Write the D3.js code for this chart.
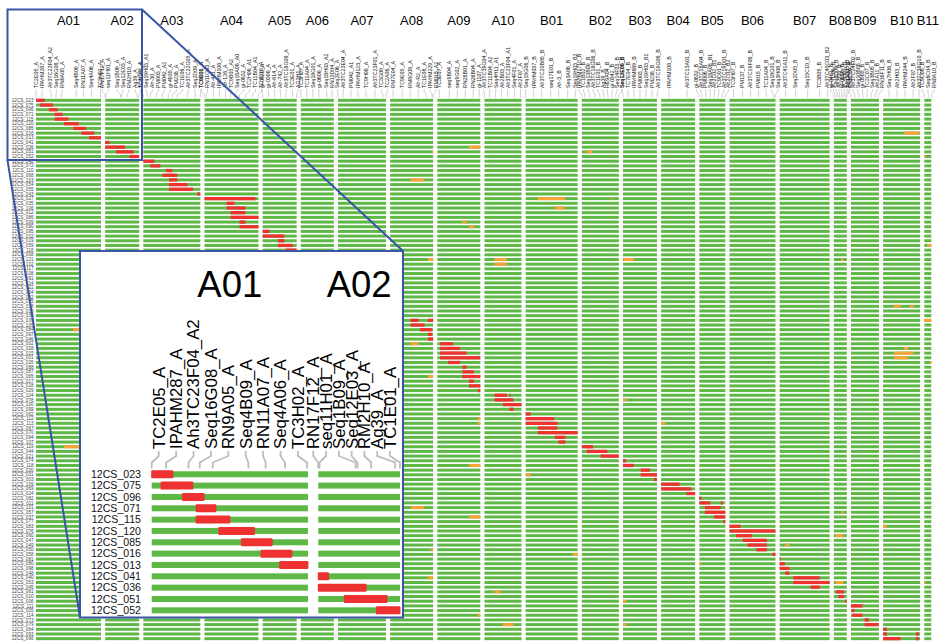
<!DOCTYPE html>
<html><head><meta charset="utf-8">
<script src="https://cdn.jsdelivr.net/npm/d3@7"></script>
<style>
body{margin:0;background:#fff}
svg{display:block}
text{font-family:"Liberation Sans",Arial,Helvetica,sans-serif}
</style>
</head><body>
<svg id="c" width="947" height="641"></svg>
<script>
// ---------------- DATA ----------------
const chromosomes = ["A01","A02","A03","A04","A05","A06","A07","A08","A09","A10","B01","B02","B03","B04","B05","B06","B07","B08","B09","B10","B11"];
const chromLengths = [65,34,57,54,34,33,48,43,43,37,52,37,34,34,26,46,50,13,28,37,7];

const markers = [
 ["A01","TC2E05_A",0],["A01","IPAHM287_A",6],["A01","Ah3TC23F04_A2",15.3],["A01","Seq16G08_A",20],["A01","RN9A05_A",25.4],["A01","Seq4B09_A",40.2],["A01","RN11A07_A",47.4],["A01","Seq4A06_A",55.5],["A01","TC3H02_A",64.6],
 ["A02","RN17F12_A",0],["A02","seq11H01_A",0.5],["A02","Seq1B09_A",15.5],["A02","Seq12E03_A",16.3],["A02","RM2H10_A",22],["A02","Ag39_A",32],["A02","TC1E01_A",34],
 ["A03","TC4G02_A",0],["A03","Seq19H03_A1",4],["A03","Ah-30_A",7],["A03","PM003_A",13],["A03","PM042_A2",19],["A03","gi-4935_A",25],["A03","PM238_A",29],["A03","TC1E06_A",34],["A03","Ah3TC22G05_A",44],["A03","Seq2D09_A",52],["A03","TC6E01_A",57],
 ["A04","TC9B08_A",0],["A04","RN11G03_A",2],["A04","Ah-411_A",9],["A04","IPAHM108_A",15],["A04","Ah-126_A",21],["A04","TC9B05_A2",26],["A04","Seq18A08_A0",30],["A04","gi-0832_A",35],["A04","TC2H06_A1",41],["A04","TC11B04_A1",48],["A04","TC7D10_A",54],
 ["A05","gi-0920_A",0],["A05","gi-0396_A",6],["A05","Ah-614_A",12],["A05","Ah-742_A",18],["A05","Ah3TC18G08_A",23],["A05","TC3E01_A",30],["A05","AG3H1_A",34],
 ["A06","TC3H07_A",0],["A06","TC11A04_A",6],["A06","Seq18G01_A",12],["A06","gi-0606_A",18],["A06","Seq18H03_A2",26],["A06","RN13D04_A",31],
 ["A07","Seq2E06_A",0],["A07","Ah3TC23E04_A",5],["A07","PM042_A1",13],["A07","IPAHM123_A",20],["A07","TC9H08_A",28],["A07","Ah3TC23F01_A",37],["A07","TC3G09_A",45],["A07","TC2A06_A",48],
 ["A08","RM7E04_A",3],["A08","TC9E05_A",12],["A08","RM8G08_A",20],["A08","Ah-R2_A",28],["A08","TC1E08_A",36],["A08","IPAHM229_A",42],["A08","PM015_A2",43],
 ["A09","TC3E07_A",2],["A09","seq9B04_A",12],["A09","seq9G02_A",20],["A09","RN28B01_A",28],["A09","RN26B04_A",36],["A09","gi-1107_A",42],
 ["A10","Ah3TC39G04_A",0],["A10","TC11B04_A2",5],["A10","Seq4H11_A1",11],["A10","Ah2B03_A",17],["A10","Ah3TC23F04_A1",23],["A10","Seq4F01_A",30],["A10","Ah2F07_A",36],
 ["B01","Seq15G06_B",0],["B01","IPAHM037_B",8],["B01","Ah3TC20B05_B",16],["B01","seq17E01_B",25],["B01","Ah-3_B",33],["B01","Seq3A08_B",42],["B01","Seq19H03_B2",50],
 ["B02","IPAHM171c_B",0],["B02","TC1B02_B",3],["B02","Seq13B09_B",8],["B02","Ah3TC18G06_B",13],["B02","TC1E01_B",18],["B02","Ag39_B",22],["B02","RE9A04_B",26],["B02","gi-0342_B",30],["B02","Seq14F03_B",34],["B02","Seq13E09_B",37],
 ["B03","Seq12E06_B",0],["B03","TC7E04_B",5],["B03","IPAHM689_B",11],["B03","PM003_B",17],["B03","Seq19H03_B1",23],["B03","PM238_B",29],["B03","Ah3TC19G06_B",34],
 ["B04","IPAHM108_B",8],["B04","Ah3TC13A01_B",26],
 ["B05","gi-0832_B",0],["B05","Ah3TC18A04_B",3],["B05","PM096_B",7],["B05","Seq18A08_B1",11],["B05","Ah2C02_B1",15],["B05","TC9D01_B",19],["B05","Ah3TC19D01_B",23],["B05","Ah2C02_B2",26],
 ["B06","TC3H07_B",4],["B06","PM137_B",13],["B06","Ah3TC19F06_B",21],["B06","PM015_B",29],["B06","TC11A04_B",37],["B06","Seq18G01_B",44],["B06","Seq3H08_B",46],
 ["B07","Ah3TC41A11_B",6],["B07","Seq2D05_B",16],["B07","Seq15C10_B",28],["B07","TC3B05_B",40],["B07","Ah3TC40C03_B2",48],
 ["B08","gi-0451_B",0],["B08","TC7C06_B",2],["B08","Seq8D09_B",4],["B08","Ah-558_B",6],["B08","gi-0688_B",8],["B08","TC4H07_B",10],["B08","Seq5D05_B",12],["B08","RN8C09_B",13],
 ["B09","TC1A02_B",0],["B09","Ah3TC24E02_B",4],["B09","Seq10B08_B",8],["B09","gi-0585_B",12],["B09","TC2C07_B",16],["B09","Seq3B05_B",20],["B09","Ah2A11_B",24],["B09","RN16F11_B",27],
 ["B10","Seq7H06_B",6],["B10","Ah2H03_B",14],["B10","IPAHM244_B",22],["B10","Ah2F07_B",30],["B10","Ah3TC38G10_B",36],
 ["B11","TC9D08_B",0],["B11","Seq6C04_B",4],["B11","RN0A10_B",7]
];

const lines = ["12CS_023","12CS_075","12CS_096","12CS_071","12CS_115","12CS_120","12CS_085","12CS_016","12CS_013","12CS_041","12CS_036","12CS_051","12CS_052",
 "12CS_042","12CS_072","12CS_110","12CS_068","12CS_103","12CS_054","12CS_055","12CS_043","12CS_027","12CS_035","12CS_106","12CS_012","12CS_086","12CS_009","12CS_090","12CS_095","12CS_032","12CS_019","12CS_059","12CS_116","12CS_008","12CS_121","12CS_102","12CS_117","12CS_108","12CS_091","12CS_014","12CS_022","12CS_034","12CS_092","12CS_025","12CS_038","12CS_033","12CS_030","12CS_039","12CS_105","12CS_084","12CS_097","12CS_046","12CS_002","12CS_028","12CS_015","12CS_001","12CS_026","12CS_088","12CS_087","12CS_065","12CS_017","12CS_018","12CS_029","12CS_104","12CS_078","12CS_100","12CS_099","12CS_062","12CS_112","12CS_113","12CS_067","12CS_070","12CS_094","12CS_107","12CS_119","12CS_044","12CS_021","12CS_074","12CS_118","12CS_020","12CS_031","12CS_003","12CS_109","12CS_069","12CS_024","12CS_082","12CS_011","12CS_101","12CS_057","12CS_037","12CS_077","12CS_083","12CS_076","12CS_060","12CS_047","12CS_049","12CS_050","12CS_058","12CS_081","12CS_080","12CS_098","12CS_048","12CS_040","12CS_053","12CS_045","12CS_061","12CS_010","12CS_006","12CS_111","12CS_005","12CS_114","12CS_073","12CS_079","12CS_064","12CS_093","12CS_066"];

// donor (introgressed) segments: [line, chromosome, start, end]
const donorSegments = [
 ["12CS_023","A01",0,8.8],["12CS_075","A01",3.9,17.1],["12CS_096","A01",12.8,21.8],["12CS_071","A01",18.5,26.7],["12CS_115","A01",18.5,32.5],["12CS_120","A01",27.9,42.8],["12CS_085","A01",37.3,50.1],["12CS_016","A01",45.5,58.3],["12CS_013","A01",53.2,65],
 ["12CS_041","A02",0,4.3],["12CS_036","A02",0,19.9],["12CS_051","A02",10.8,28.6],["12CS_052","A02",24.2,34],
 ["12CS_042","A03",0,11],["12CS_072","A03",7,17],["12CS_110","A03",22.7,29],["12CS_068","A03",19,34],["12CS_103","A03",25.7,34],["12CS_054","A03",25.7,44],["12CS_055","A03",25.7,49.7],["12CS_043","A03",54,57],
 ["12CS_027","A04",0,51],["12CS_035","A04",22,30],["12CS_106","A04",22,41],["12CS_012","A04",26,41],["12CS_086","A04",26,54],["12CS_009","A04",35,41],["12CS_090","A04",35,54],
 ["12CS_095","A05",0,7],["12CS_032","A05",0,21.7],["12CS_019","A05",15.3,21.7],["12CS_059","A05",15.3,30],["12CS_116","A05",23,34],
 ["12CS_039","A08",20.4,28.4],["12CS_039","A08",37.8,43],["12CS_105","A08",20.4,34.4],["12CS_084","A08",29.8,41.7],["12CS_097","A08",37.8,41.7],["12CS_046","A08",37.8,43],
 ["12CS_002","A09",2.8,15.7],["12CS_028","A09",2.8,22.7],["12CS_015","A09",2.8,29.3],["12CS_001","A09",2.8,43],["12CS_026","A09",10.8,22.7],["12CS_088","A09",25.1,29.3],["12CS_087","A09",25.1,36.6],["12CS_065","A09",25.1,43],["12CS_017","A09",31.7,36.6],["12CS_018","A09",31.7,43],["12CS_029","A09",40.5,43],
 ["12CS_104","A10",10.1,22.3],["12CS_104","A10",25.1,26.2],["12CS_078","A10",10.1,29],["12CS_100","A10",18.5,37],["12CS_099","A10",25.1,29],
 ["12CS_062","B01",0,4.9],["12CS_112","B01",0,28.3],["12CS_113","B01",0,31.7],["12CS_067","B01",12.2,31.7],["12CS_070","B01",12.2,52],["12CS_094","B01",29.3,39.8],["12CS_107","B01",32.8,39.8],
 ["12CS_119","B02",0,11.2],["12CS_044","B02",4.9,25.5],["12CS_021","B02",18.8,37],
 ["12CS_074","B03",0,3.1],["12CS_118","B03",0,10.8],["12CS_020","B03",17.8,26.9],["12CS_031","B03",17.8,34],["12CS_003","B03",31,34],
 ["12CS_109","B04",0,18.5],["12CS_069","B04",0,30],["12CS_024","B04",25.4,34],
 ["12CS_082","B05",0,2.1],["12CS_011","B05",0,10.8],["12CS_011","B05",21.3,23.4],["12CS_101","B05",5.6,21.3],["12CS_057","B05",5.6,26],["12CS_037","B05",14.7,26],["12CS_077","B05",24.1,26],
 ["12CS_083","B06",0,11.2],["12CS_076","B06",0,46],["12CS_060","B06",6.6,22.7],["12CS_047","B06",13.3,37.3],["12CS_049","B06",18.1,37.3],["12CS_050","B06",26.9,37.3],["12CS_058","B06",42.9,46],
 ["12CS_081","B07",0,1.1],["12CS_080","B07",0,5.2],["12CS_098","B07",0,9.8],["12CS_048","B07",5.6,9.8],["12CS_040","B07",13.6,40.1],["12CS_053","B07",13.6,50],["12CS_045","B07",31,40.1],
 ["12CS_061","B08",2.4,10.1],["12CS_010","B08",4.5,10.1],["12CS_006","B08",11.5,13],
 ["12CS_111","B09",0,11.5],["12CS_005","B09",0.7,3.5],["12CS_114","B09",1.4,11.5],["12CS_073","B09",13.6,18.1],["12CS_079","B09",13.6,27.6],
 ["12CS_064","B10",0,3.8],["12CS_093","B10",0,3.8],["12CS_093","B10",32.8,35.6],["12CS_066","B10",0,17.4],["12CS_066","B10",32.8,35.6]
];

// other (heterozygous / unexpected) segments: [line, chromosome, start, end]
const otherSegments = [
 ["12CS_016","B10",20.8,36.1],["12CS_036","A09",31.7,43],["12CS_051","A08",42,43],["12CS_051","B02",4.9,10.8],["12CS_052","B11",0,1.4],
 ["12CS_103","A08",20.4,34.4],["12CS_027","B01",12.2,39.4],["12CS_027","B02",29.3,30.3],["12CS_106","B01",29.3,39.4],
 ["12CS_009","A09",25.1,29.3],["12CS_090","A09",31.7,36.6],["12CS_059","B11",2.8,7],
 ["12CS_121","A08",37.8,43],["12CS_121","A10",10.1,22.3],["12CS_121","B03",0.7,10.8],["12CS_121","B08",7.3,9.4],["12CS_102","A10",10.1,22.3],
 ["12CS_038","B10",10.8,17.8],["12CS_038","B10",26.9,30.4],["12CS_039","B11",0,7],["12CS_084","A01",37,45],
 ["12CS_002","A08",20.4,28.4],["12CS_028","B10",20.9,24.8],["12CS_015","B10",10.8,30.4],["12CS_001","B10",10.8,24.8],["12CS_026","B11",5.6,7],
 ["12CS_065","A08",37.8,43],["12CS_078","B03",0,3.1],["12CS_112","A09",40.5,43],["12CS_113","A09",40.5,43],["12CS_113","B04",0,4.2],
 ["12CS_119","A01",28,45],["12CS_118","A09",31.7,43],["12CS_031","B01",0,4.9],["12CS_101","A08",20.8,34],["12CS_057","B08",7.3,9.4],
 ["12CS_037","A09",31.7,43],["12CS_083","B10",0,3.5],["12CS_060","B08",1.7,9.4],["12CS_049","B07",5.6,9.8],["12CS_050","A08",41,43],
 ["12CS_058","B01",47.1,52],["12CS_080","B05",0,2.1],["12CS_040","A08",37.8,43],["12CS_053","B08",1.7,9.4],["12CS_053","B11",0,1.4],
 ["12CS_061","A10",10.1,16],["12CS_006","B03",0,3.1],["12CS_114","A09",40.5,43],["12CS_079","A10",18.5,29],["12CS_079","B03",0,3.1]
];

const insetChromosomes = ["A01","A02"];
const insetLineCount = 13;

// ---------------- STYLE ----------------
const GREEN = "#5db846", RED = "#ee3232", ORANGE = "#f8a336", BLUE = "#3a55a6", GREY = "#bdbdbd";

// ---------------- MAIN CHART ----------------
const svg = d3.select("#c");
const lenOf = Object.fromEntries(chromosomes.map((c, i) => [c, chromLengths[i]]));
const gapU = 4.17;
const offset = {};
let acc = 0;
chromosomes.forEach((c, i) => { offset[c] = acc; acc += chromLengths[i] + (i < chromosomes.length - 1 ? gapU : 0); });

const x = d3.scaleLinear().domain([0, acc]).range([36, 931.3]);
const y = d3.scaleBand().domain(lines).range([98, 641]);
const rc = l => y(l) + y.bandwidth() / 2;

const main = svg.append("g");

const grid = [];
lines.forEach(l => chromosomes.forEach(c => grid.push([l, c])));
main.append("g").selectAll("rect").data(grid).join("rect")
  .attr("x", d => x(offset[d[1]]))
  .attr("width", d => x(offset[d[1]] + lenOf[d[1]]) - x(offset[d[1]]))
  .attr("y", d => rc(d[0]) - 1.5).attr("height", 3)
  .attr("fill", GREEN);

function segs(g, data, color, h) {
  g.append("g").selectAll("rect").data(data).join("rect")
    .attr("x", d => x(offset[d[1]] + d[2]))
    .attr("width", d => Math.max(0.8, x(offset[d[1]] + d[3]) - x(offset[d[1]] + d[2])))
    .attr("y", d => rc(d[0]) - h / 2).attr("height", h)
    .attr("fill", color);
}
segs(main, otherSegments, ORANGE, 3);
segs(main, donorSegments, RED, 3.3);

main.append("g").selectAll("text").data(lines).join("text")
  .attr("x", 33.5).attr("y", d => rc(d)).attr("dy", "0.35em")
  .attr("text-anchor", "end").attr("font-size", 4.6).attr("fill", "#444")
  .text(d => d);

main.append("g").selectAll("text").data(chromosomes).join("text")
  .attr("x", c => x(offset[c] + lenOf[c] / 2)).attr("y", 25)
  .attr("text-anchor", "middle").attr("font-size", 13).attr("fill", "#000")
  .text(c => c);

function dodge(desired, d, lo, hi) {
  let cl = desired.map(v => ({ n: 1, sum: v }));
  const first = c => { let f = c.sum / c.n - (c.n - 1) * d / 2; return Math.max(lo, Math.min(hi - (c.n - 1) * d, f)); };
  let changed = true;
  while (changed) {
    changed = false;
    for (let k = 0; k < cl.length - 1; k++) {
      const a = cl[k], b = cl[k + 1];
      if (first(b) - (first(a) + (a.n - 1) * d) < d - 1e-9) {
        cl.splice(k, 2, { n: a.n + b.n, sum: a.sum + b.sum }); changed = true; break;
      }
    }
  }
  const out = [];
  cl.forEach(c => { const f = first(c); for (let j = 0; j < c.n; j++) out.push(f + j * d); });
  return out;
}

const mainLabels = [];
chromosomes.forEach(c => {
  const ms = markers.filter(m => m[0] === c);
  if (!ms.length) return;
  const lo = x(offset[c]) - 3, hi = x(offset[c] + lenOf[c]) + 3;
  const d = ms.length > 1 ? Math.min(6.0, (hi - lo) / (ms.length - 1)) : 6;
  const desired = ms.map(m => x(offset[c] + m[2]));
  const pos = dodge(desired, d, lo, hi);
  ms.forEach((m, i) => mainLabels.push({ name: m[1], mx: desired[i], lx: pos[i] }));
});

main.append("g").selectAll("path").data(mainLabels).join("path")
  .attr("d", d => `M${d.lx},89V91.3L${d.mx},94.6V97.6`)
  .attr("fill", "none").attr("stroke", GREY).attr("stroke-width", 0.7);
main.append("g").selectAll("text").data(mainLabels).join("text")
  .attr("transform", d => `translate(${d.lx},88) rotate(-90)`)
  .attr("dy", "0.35em").attr("font-size", 5.3).attr("fill", "#111")
  .text(d => d.name);

// ---------------- ZOOM BOX & CONNECTORS ----------------
svg.append("rect").attr("x", 7.5).attr("y", 9.5).attr("width", 134.5).attr("height", 150.5)
  .attr("fill", "none").attr("stroke", BLUE).attr("stroke-width", 2);
svg.append("line").attr("x1", 142).attr("y1", 9.5).attr("x2", 403).attr("y2", 251)
  .attr("stroke", BLUE).attr("stroke-width", 2);
svg.append("line").attr("x1", 7.5).attr("y1", 160).attr("x2", 80).attr("y2", 617.5)
  .attr("stroke", BLUE).attr("stroke-width", 2);

// ---------------- INSET ----------------
const inset = svg.append("g");
inset.append("rect").attr("x", 80).attr("y", 251).attr("width", 323).attr("height", 366.5)
  .attr("fill", "#fff").attr("stroke", BLUE).attr("stroke-width", 2);

const iGapU = 4.3;
const iOff = {}; let iacc = 0;
insetChromosomes.forEach((c, i) => { iOff[c] = iacc; iacc += lenOf[c] + (i < insetChromosomes.length - 1 ? iGapU : 0); });
const xi = d3.scaleLinear().domain([0, iacc]).range([151.7, 400]);
const iLines = lines.slice(0, insetLineCount);
const yi = d3.scaleBand().domain(iLines).range([468.6, 616]);
const ic = l => yi(l) + yi.bandwidth() / 2;

const igrid = [];
iLines.forEach(l => insetChromosomes.forEach(c => igrid.push([l, c])));
inset.append("g").selectAll("rect").data(igrid).join("rect")
  .attr("x", d => xi(iOff[d[1]])).attr("width", d => xi(iOff[d[1]] + lenOf[d[1]]) - xi(iOff[d[1]]))
  .attr("y", d => ic(d[0]) - 3).attr("height", 6).attr("fill", GREEN);

const iDonor = donorSegments.filter(d => insetChromosomes.includes(d[1]) && iLines.includes(d[0]));
inset.append("g").selectAll("rect").data(iDonor).join("rect")
  .attr("x", d => xi(iOff[d[1]] + d[2]) - 0.5)
  .attr("width", d => xi(iOff[d[1]] + d[3]) - xi(iOff[d[1]] + d[2]) + 1)
  .attr("y", d => ic(d[0]) - 4).attr("height", 8).attr("rx", 1.2)
  .attr("fill", RED);

inset.append("g").selectAll("text").data(iLines).join("text")
  .attr("x", 141).attr("y", d => ic(d)).attr("dy", "0.36em")
  .attr("text-anchor", "end").attr("font-size", 10.6).attr("fill", "#111")
  .text(d => d);

inset.append("g").selectAll("text").data(insetChromosomes).join("text")
  .attr("x", c => xi(iOff[c] + lenOf[c] / 2)).attr("y", 296.7)
  .attr("text-anchor", "middle").attr("font-size", 36.5).attr("fill", "#000")
  .text(c => c);

const insetLabels = [];
insetChromosomes.forEach(c => {
  const ms = markers.filter(m => m[0] === c);
  const s = xi(iOff[c]), e = xi(iOff[c] + lenOf[c]);
  const right = e - 10;
  const step = Math.min(17.4, (right - (s - 5)) / (ms.length - 1));
  ms.forEach((m, i) => insetLabels.push({ name: m[1], mx: xi(iOff[c] + m[2]), lx: right - (ms.length - 1 - i) * step }));
});
inset.append("g").selectAll("path").data(insetLabels).join("path")
  .attr("d", d => `M${d.lx},451V456L${d.mx},462.5V468.5`)
  .attr("fill", "none").attr("stroke", GREY).attr("stroke-width", 1.8);
inset.append("g").selectAll("text").data(insetLabels).join("text")
  .attr("transform", d => `translate(${d.lx},449) rotate(-90)`)
  .attr("dy", "0.35em").attr("font-size", 16.8).attr("fill", "#000")
  .text(d => d.name);
</script>
</body></html>
